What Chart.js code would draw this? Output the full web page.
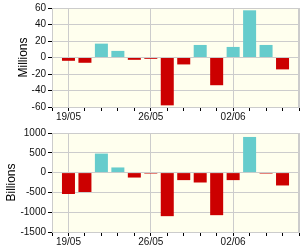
<!DOCTYPE html>
<html lang="en">
<head>
  <meta charset="UTF-8">
  <title>Daily net flows</title>
  <script src="https://cdn.jsdelivr.net/npm/chart.js"></script>
  <style>
    body { margin: 0; background: #fff; }
    canvas { display: block; }
  </style>
</head>
<body>
  <canvas id="topChart" width="300" height="125"></canvas>
  <canvas id="bottomChart" width="300" height="125"></canvas>

  <script>
    // trading days (weekends skipped)
    const days = ['19/05', '20/05', '21/05', '22/05', '23/05',
                  '26/05', '27/05', '28/05', '29/05', '30/05',
                  '02/06', '03/06', '04/06', '05/06'];
    const millions = [-4, -6.4, 16.8, 8, -2.8, -1.6, -58, -8.4, 15.2, -33.6, 12.8, 57.2, 15.2, -14.4];
    const billions = [-540, -490, 480, 130, -125, -25, -1100, -190, -250, -1075, -190, 900, -25, -325];
    const millionTicks = [-60, 60, 20];
    const billionTicks = [-1500, 1000, 500];

    const posColor = '#66cccc';
    const negColor = '#cc0000';
    const gridColor = '#cccccc';
    const font = { family: "'Liberation Sans', Arial, sans-serif", size: 10 };

    // fill the plot area and draw its frame
    const plotBg = {
      id: 'plotBg',
      beforeDraw(chart) {
        const { ctx, chartArea: a } = chart;
        ctx.save();
        ctx.fillStyle = '#ffffee';
        ctx.fillRect(a.left, a.top, a.right - a.left, a.bottom - a.top);
        ctx.restore();
      },
      afterDraw(chart) {
        const { ctx, chartArea: a } = chart;
        ctx.save();
        ctx.strokeStyle = gridColor;
        ctx.lineWidth = 1;
        ctx.strokeRect(Math.round(a.left) + 0.5, Math.round(a.top) + 0.5,
                       Math.round(a.right - a.left) - 1, Math.round(a.bottom - a.top));
        ctx.restore();
      }
    };

    function makeChart(id, values, yTicks, title, padLeft, padTop) {
      new Chart(document.getElementById(id), {
        type: 'bar',
        data: {
          datasets: [{
            data: values.map((v, i) => ({ x: i, y: v })),
            backgroundColor: values.map(v => v >= 0 ? posColor : negColor),
            barPercentage: 0.79,
            categoryPercentage: 1
          }]
        },
        plugins: [plotBg],
        options: {
          responsive: false,
          animation: false,
          layout: { padding: { left: padLeft, top: padTop, right: 1, bottom: 0 } },
          plugins: { legend: { display: false }, tooltip: { enabled: false } },
          scales: {
            x: {
              type: 'linear',
              min: -1,
              max: days.length,
              offset: false,
              afterFit: s => { s.height = 18; },
              border: { color: gridColor },
              grid: {
                offset: false,
                color: c => (c.tick && (c.tick.value % 5 === 0 || c.tick.value === days.length)) ? gridColor : 'transparent',
                tickColor: '#000',
                tickLength: 4
              },
              ticks: {
                stepSize: 1,
                autoSkip: false,
                maxRotation: 0,
                padding: 0,
                color: '#111',
                font: font,
                callback: v => (v >= 0 && v < days.length && v % 5 === 0) ? days[v] : ''
              }
            },
            y: {
              min: yTicks[0],
              max: yTicks[1],
              afterFit: s => { s.width = 52 - padLeft; },
              border: { color: gridColor },
              grid: { color: gridColor, tickColor: '#000', tickLength: 4 },
              ticks: { stepSize: yTicks[2], padding: 2, color: '#111', font: font, callback: v => String(v) },
              title: {
                display: true,
                text: title,
                color: '#000',
                font: { family: font.family, size: 12 },
                padding: { top: 4, bottom: 0 }
              }
            }
          }
        }
      });
    }

    makeChart('topChart', millions, millionTicks, 'Millions', 12, 7);
    makeChart('bottomChart', billions, billionTicks, 'Billions', 0, 6);
  </script>
</body>
</html>
